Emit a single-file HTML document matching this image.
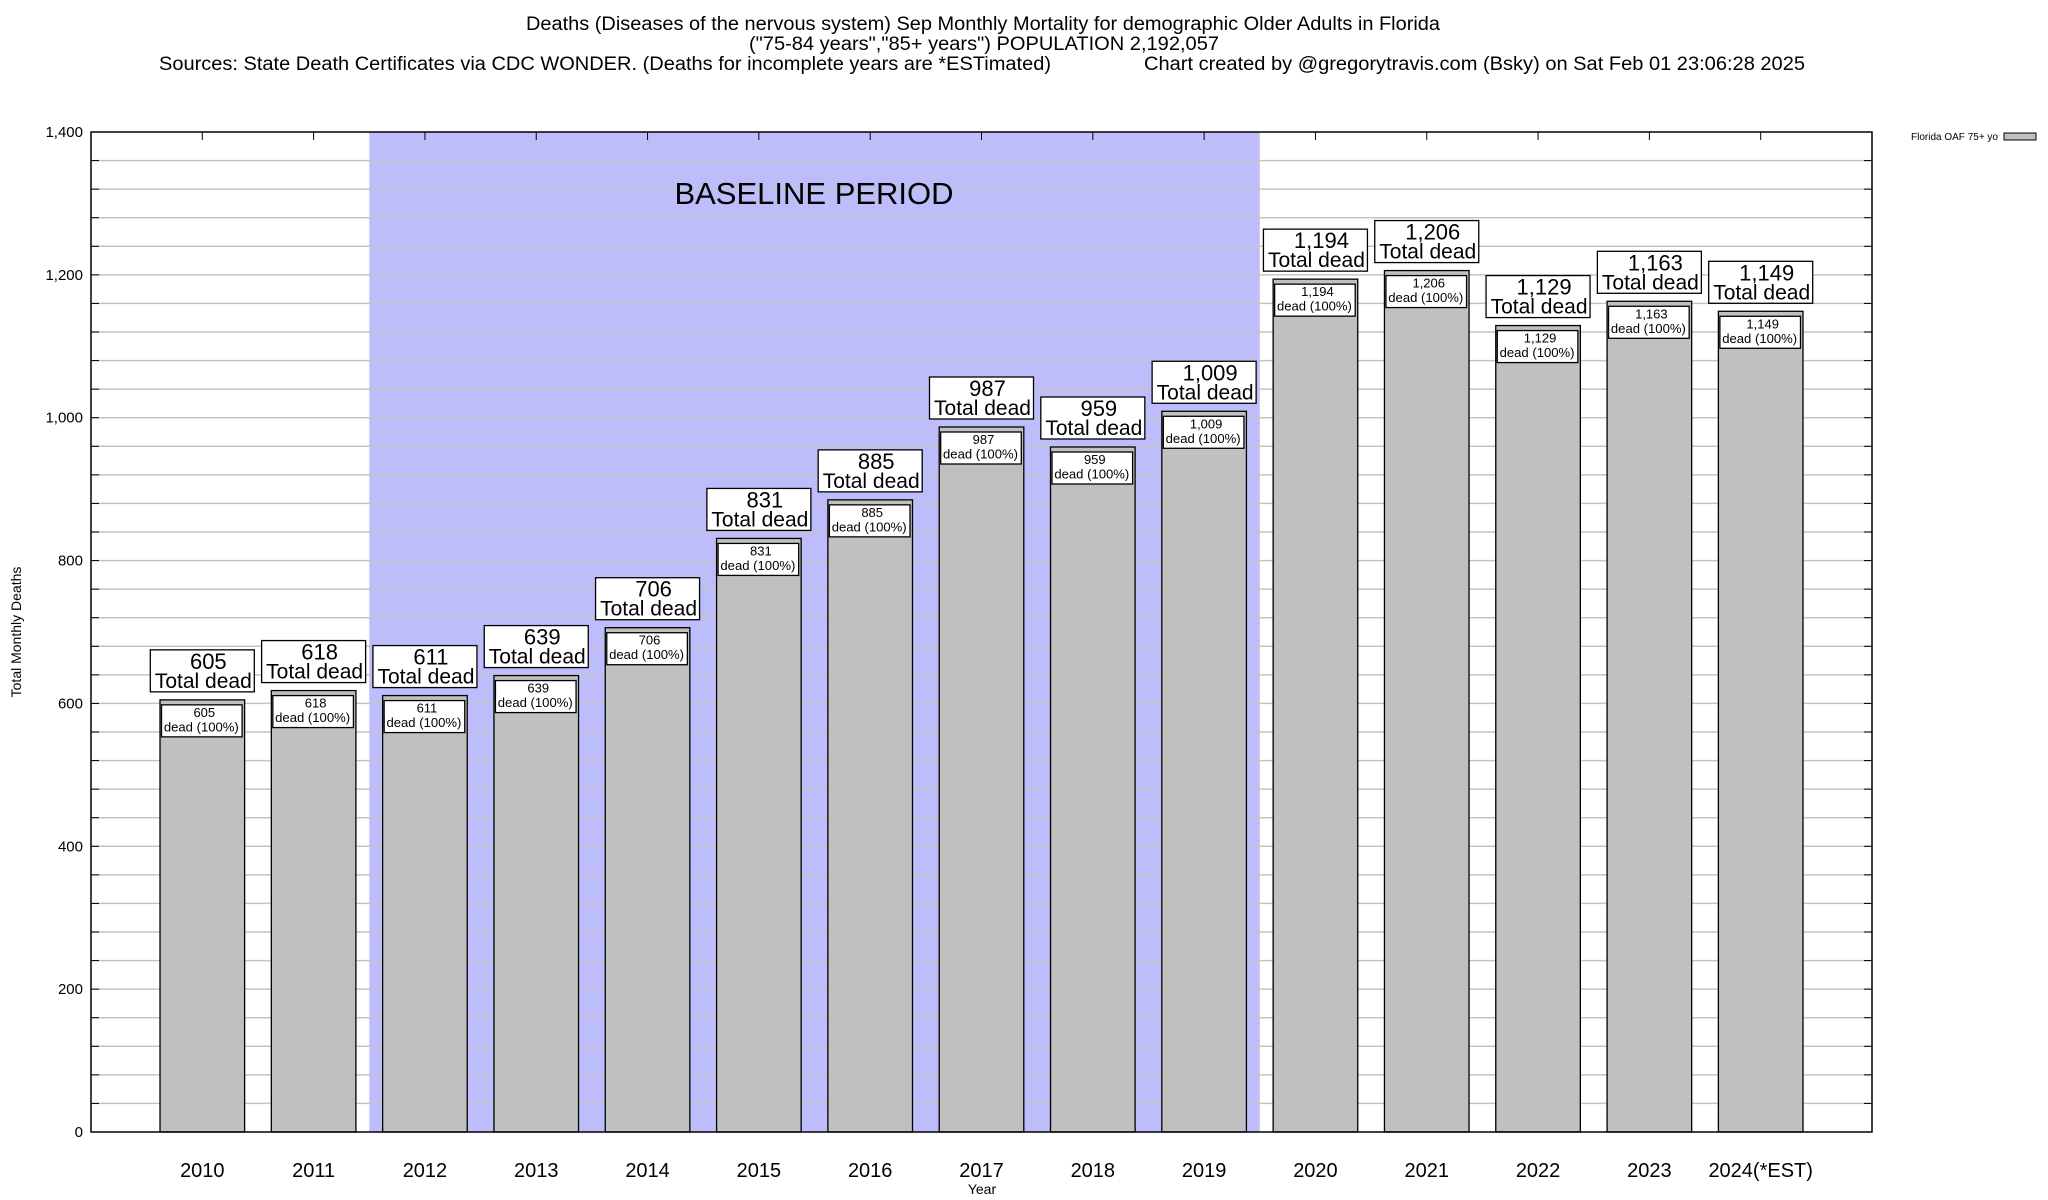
<!DOCTYPE html>
<html><head><meta charset="utf-8"><style>
html,body{margin:0;padding:0;background:#fff;}
svg{display:block;font-family:"Liberation Sans",Arial,sans-serif;}
</style></head>
<body>
<svg id="chart" width="2048" height="1200" viewBox="0 0 2048 1200" xmlns="http://www.w3.org/2000/svg">
<g font-size="19" fill="#000">
<text x="526" y="30" textLength="914" lengthAdjust="spacingAndGlyphs">Deaths (Diseases of the nervous system) Sep Monthly Mortality for demographic Older Adults in Florida</text>
<text x="749" y="50" textLength="470" lengthAdjust="spacingAndGlyphs">("75-84 years","85+ years") POPULATION 2,192,057</text>
<text x="159" y="70" textLength="892" lengthAdjust="spacingAndGlyphs">Sources: State Death Certificates via CDC WONDER. (Deaths for incomplete years are *ESTimated)</text>
<text x="1144" y="70" textLength="661" lengthAdjust="spacingAndGlyphs">Chart created by @gregorytravis.com (Bsky) on Sat Feb 01 23:06:28 2025</text>
</g>
<g id="plot"></g>
<g>
<text x="1998" y="140" font-size="10" text-anchor="end">Florida OAF 75+ yo</text>
<rect x="2004" y="133" width="32" height="7" fill="#c0c0c0" stroke="#000" stroke-width="1"/>
</g>
</svg>
<script>
const years = ["2010","2011","2012","2013","2014","2015","2016","2017","2018","2019","2020","2021","2022","2023","2024(*EST)"];
const deaths = [605,618,611,639,706,831,885,987,959,1009,1194,1206,1129,1163,1149];
const yTicks = [0,200,400,600,800,1000,1200,1400];
const baselineStart = 1.5, baselineEnd = 9.5;

const NS = "http://www.w3.org/2000/svg";
const L = 91, R = 1872, T = 132, B = 1132;
const yMax = 1400;
const xs = i => L + (i + 1) * (R - L) / 16;
const ys = v => B - v / yMax * (B - T);
const bw = (R - L) / 16 * 0.76;
const fmt = v => v.toLocaleString("en-US");
const g = document.getElementById("plot");
function mk(tag, attrs, parent, txt){
  const e = document.createElementNS(NS, tag);
  for (const k in attrs) e.setAttribute(k, attrs[k]);
  if (txt !== undefined) e.textContent = txt;
  (parent || g).appendChild(e);
  return e;
}

let band = mk("rect", {x: xs(baselineStart), y: T, width: xs(baselineEnd) - xs(baselineStart), height: B - T, fill: "#bdbdfc"});



for (let v = 40; v < yMax; v += 40) {
  let ln = mk("line", {x1: L, x2: R, y1: ys(v), y2: ys(v), stroke: "#c4c4c4", "stroke-width": 1.5});
  
  
  let tk1 = mk("line", {x1: L, x2: L + 8, y1: ys(v), y2: ys(v), stroke: "#000", "stroke-width": 1});
  
  
  let tk2 = mk("line", {x1: R - 8, x2: R, y1: ys(v), y2: ys(v), stroke: "#000", "stroke-width": 1});
  
  
}

let bl = mk("text", {x: 814, y: 204, "font-size": 31, "text-anchor": "middle"}, g, "BASELINE PERIOD");



yTicks.forEach(v => {
  let t = mk("text", {x: 83, y: ys(v) + 5, "font-size": 15, "text-anchor": "end"}, g, fmt(v));
  
  
});

years.forEach((yr, i) => {
  const v = deaths[i];
  const cx = xs(i), top = ys(v);
  let tt = mk("line", {x1: cx, x2: cx, y1: T, y2: T + 8, stroke: "#000", "stroke-width": 1});
  
  
  let bar = mk("rect", {x: cx - bw / 2, y: top, width: bw, height: B - top, fill: "#c0c0c0", stroke: "#000", "stroke-width": 1.3});
  
  
  let ib = mk("rect", {x: cx - bw / 2 + 1.5, y: top + 5, width: bw - 4, height: 32, fill: "#fff", stroke: "#000", "stroke-width": 1.3});
  
  
  let it1 = mk("text", {x: cx + 2, y: top + 17, "font-size": 13, "text-anchor": "middle"}, g, fmt(v));
  
  
  let it2 = mk("text", {x: cx - 1, y: top + 31.5, "font-size": 13, "text-anchor": "middle", textLength: 75, lengthAdjust: "spacingAndGlyphs"}, g, "dead (100%)");
  
  
  const bh = 42, bwid = 104, by = top - 8 - bh;
  let ob = mk("rect", {x: cx - bwid / 2, y: by, width: bwid, height: bh, fill: "#fff", stroke: "#000", "stroke-width": 1.3});
  
  
  let ot1 = mk("text", {x: cx + 6, y: by + 19, "font-size": 22, "text-anchor": "middle"}, g, fmt(v));
  
  
  let ot2 = mk("text", {x: cx + 1, y: by + 38, "font-size": 21, "text-anchor": "middle", textLength: 97, lengthAdjust: "spacingAndGlyphs"}, g, "Total dead");
  
  
  let xl = mk("text", {x: cx, y: 1177, "font-size": 20, "text-anchor": "middle"}, g, yr);
  
  
});

let fr = mk("rect", {x: L, y: T, width: R - L, height: B - T, fill: "none", stroke: "#000", "stroke-width": 1.5});



let xt = mk("text", {x: 982, y: 1194, "font-size": 14, "text-anchor": "middle"}, g, "Year");


let yt = mk("text", {x: 0, y: 0, "font-size": 14, "text-anchor": "middle", transform: "translate(21,632) rotate(-90)"}, g, "Total Monthly Deaths");


</script>
</body></html>
